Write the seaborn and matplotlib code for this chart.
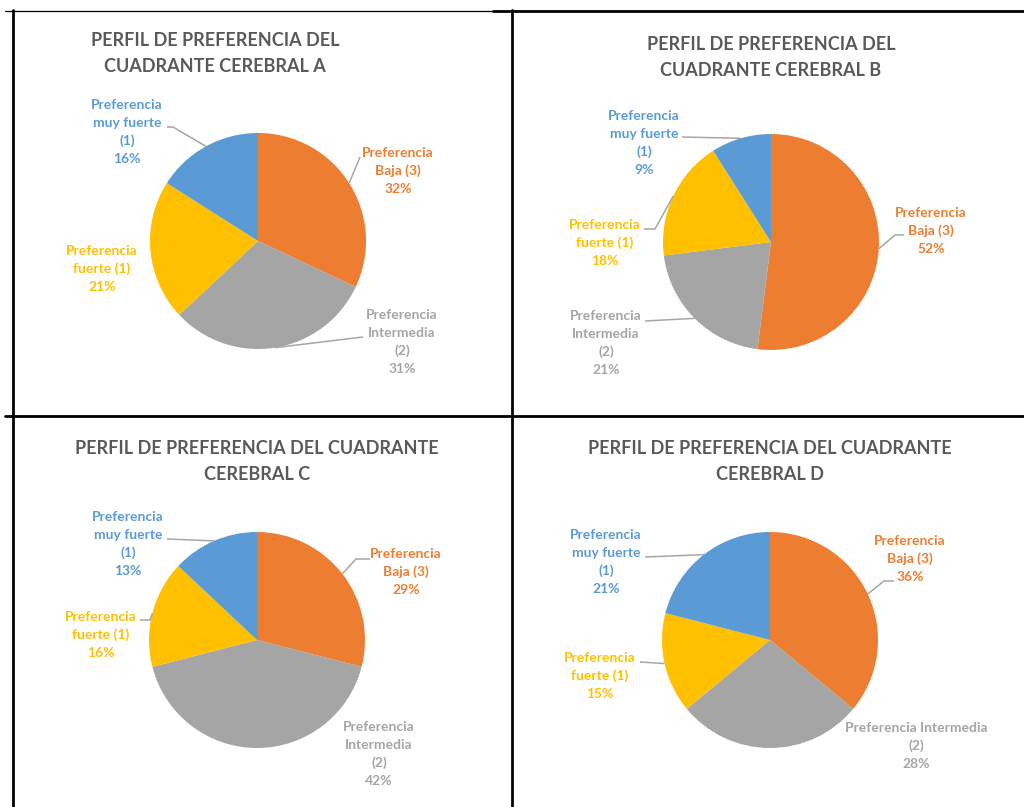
import matplotlib
matplotlib.use("Agg")
import matplotlib.pyplot as plt
import numpy as np
import seaborn as sns

# ---- data -------------------------------------------------------------
categories = ["Preferencia Baja (3)", "Preferencia Intermedia (2)",
              "Preferencia fuerte (1)", "Preferencia muy fuerte (1)"]
cuadrante_a = [32, 31, 21, 16]
cuadrante_b = [52, 21, 18, 9]
cuadrante_c = [29, 42, 16, 13]
cuadrante_d = [36, 28, 15, 21]

titles = [
    ["PERFIL DE PREFERENCIA DEL", "CUADRANTE CEREBRAL A"],
    ["PERFIL DE PREFERENCIA DEL", "CUADRANTE CEREBRAL B"],
    ["PERFIL DE PREFERENCIA DEL CUADRANTE", "CEREBRAL C"],
    ["PERFIL DE PREFERENCIA DEL CUADRANTE", "CEREBRAL D"],
]

# category name split into label lines, per chart
label_lines_abc = [["Preferencia", "Baja (3)"],
                   ["Preferencia", "Intermedia", "(2)"],
                   ["Preferencia", "fuerte (1)"],
                   ["Preferencia", "muy fuerte", "(1)"]]
label_lines_d = [["Preferencia", "Baja (3)"],
                 ["Preferencia Intermedia", "(2)"],
                 ["Preferencia", "fuerte (1)"],
                 ["Preferencia", "muy fuerte", "(1)"]]

# ---- style ------------------------------------------------------------
sns.set_theme(style="white")
plt.rcParams["font.family"] = ["Lato", "DejaVu Sans"]
colors = ["#ED7D31", "#A5A5A5", "#FFC000", "#5B9BD5"]
title_color = "#595959"
leader_color = "#A6A6A6"

W_PX, H_PX = 1024, 807
R = 108.0  # pie radius in pixels

# layout of each chart (pixel coordinates, y downwards)
layout = [
    dict(values=cuadrante_a, lines=label_lines_abc, center=(258, 241),
         title=(215, 40), labels=[(398, 171), (402, 342), (102, 269), (127, 132)],
         leaders=[[(360, 157)], [(363, 337)], None, [(167, 127), (173, 127)]]),
    dict(values=cuadrante_b, lines=label_lines_abc, center=(771, 242),
         title=(771, 44), labels=[(931, 231), (606, 343), (605, 243), (644, 143)],
         leaders=[[(904, 235), (895, 235)], [(645, 321)], [(644, 229), (655, 229)],
                  [(682, 137)]]),
    dict(values=cuadrante_c, lines=label_lines_abc, center=(257, 640),
         title=(257, 448), labels=[(406, 572), (379, 754), (101, 635), (128, 544)],
         leaders=[[(370, 559), (356, 559)], None, [(140, 620), (150, 620)],
                  [(167, 539)]]),
    dict(values=cuadrante_d, lines=label_lines_d, center=(770, 640),
         title=(770, 448), labels=[(910, 559), (916, 746), (600, 676), (606, 562)],
         leaders=[[(894, 581), (884, 581)], None, [(640, 662)], [(645, 557)]]),
]

fig = plt.figure(figsize=(W_PX / 100, H_PX / 100), dpi=100)
fig.patch.set_facecolor("white")

BOX_W, BOX_H = 480, 390

for panel in layout:
    cx, cy = panel["center"]
    ax = fig.add_axes([(cx - BOX_W / 2) / W_PX, 1 - (cy + BOX_H / 2) / H_PX,
                       BOX_W / W_PX, BOX_H / H_PX])
    ax.patch.set_visible(False)
    vals = panel["values"]
    wedges, _ = ax.pie(vals, colors=colors, startangle=90, counterclock=False,
                       radius=1.0, wedgeprops=dict(linewidth=0))
    ax.set_xlim(-BOX_W / 2 / R, BOX_W / 2 / R)
    ax.set_ylim(-BOX_H / 2 / R, BOX_H / 2 / R)
    ax.set_aspect("equal", adjustable="box")
    ax.axis("off")

    def to_data(p):
        return ((p[0] - cx) / R, (cy - p[1]) / R)

    for i, w in enumerate(wedges):
        # label lines: category words plus percentage
        text_lines = panel["lines"][i] + [f"{vals[i]}%"]
        lx, ly = panel["labels"][i]
        n = len(text_lines)
        for k, t in enumerate(text_lines):
            py = ly + (k - (n - 1) / 2) * 18
            dx, dy = to_data((lx, py))
            ax.text(dx, dy, t, ha="center", va="center", fontsize=10,
                    fontweight="bold", color=colors[i], clip_on=False)
        # leader line ending on the wedge rim at its mid-angle
        pts = panel["leaders"][i]
        if pts:
            mid = np.deg2rad((w.theta1 + w.theta2) / 2)
            xs = [to_data(p)[0] for p in pts] + [np.cos(mid)]
            ys = [to_data(p)[1] for p in pts] + [np.sin(mid)]
            ax.plot(xs, ys, color=leader_color, lw=1.1, clip_on=False,
                    solid_capstyle="butt")

# overlay in pixel coordinates for the titles and the table grid
ov = fig.add_axes([0, 0, 1, 1])
ov.set_xlim(0, W_PX)
ov.set_ylim(H_PX, 0)
ov.axis("off")
ov.patch.set_visible(False)

for panel, ttl in zip(layout, titles):
    tx, ty = panel["title"]
    for k, t in enumerate(ttl):
        ov.text(tx, ty + k * 27, t, ha="center", va="center", fontsize=13,
                fontweight="bold", color=title_color)

# table borders
ov.plot([5, 493], [10.5, 10.5], color="black", lw=0.9)
ov.plot([493, 1024], [11, 11], color="black", lw=2)
ov.plot([5, 1024], [416, 416], color="black", lw=2)
ov.plot([13, 13], [10, 807], color="black", lw=2)
ov.plot([512, 512], [10, 807], color="black", lw=2)

fig.savefig("out.png", dpi=100, facecolor="white")
